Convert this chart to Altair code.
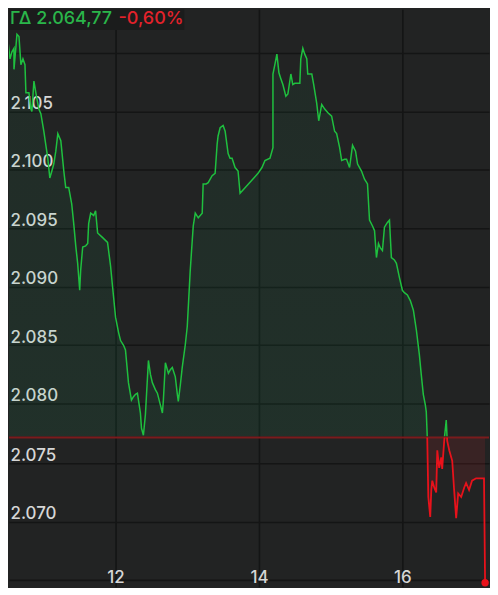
import altair as alt
import pandas as pd

# ---- data ----
minutes = [630.0, 630.0, 631.7, 633.3, 635.0, 635.0, 636.7, 637.5, 639.2, 640.8,
           642.5, 644.2, 645.0, 647.5, 649.2, 650.0, 651.7, 653.3, 654.2, 655.8,
           657.5, 660.0, 661.7, 663.3, 665.0, 666.7, 668.3, 670.0, 671.7, 674.2,
           676.7, 678.3, 680.8, 683.3, 685.0, 686.7, 688.3, 690.0, 690.8, 692.5,
           695.0, 696.7, 697.5, 699.2, 701.7, 703.3, 705.0, 709.2, 713.3, 715.8,
           717.5, 720.0, 722.5, 724.2, 726.7, 728.3, 730.8, 733.3, 735.0, 736.7,
           738.3, 740.8, 741.7, 743.3, 745.0, 747.5, 749.2, 750.8, 753.3, 755.0,
           757.5, 759.2, 760.0, 761.7, 764.2, 765.8, 767.5, 770.0, 771.7, 772.5,
           774.2, 775.8, 778.3, 780.0, 782.5, 784.2, 785.0, 786.7, 789.2, 792.5,
           793.3, 795.8, 797.5, 800.8, 803.3, 805.0, 805.8, 807.5, 810.0, 811.7,
           814.2, 815.8, 817.5, 820.0, 822.5, 824.2, 839.2, 842.5, 845.0, 849.2,
           851.7, 851.7, 853.3, 855.0, 856.7, 858.3, 860.0, 862.5, 864.2, 866.7,
           868.3, 870.0, 874.2, 875.0, 876.7, 878.3, 880.0, 880.8, 884.2, 885.8,
           888.3, 890.0, 892.5, 895.0, 897.5, 900.8, 903.3, 905.0, 907.5, 909.2,
           911.7, 913.3, 915.8, 918.3, 920.8, 922.5, 925.8, 928.3, 930.8, 932.5,
           935.0, 936.7, 938.3, 940.0, 941.7, 943.3, 945.0, 947.5, 949.2, 950.8,
           953.3, 955.0, 957.5, 960.0, 961.7, 964.2, 966.7, 969.2, 971.7, 974.2,
           975.8, 977.5, 979.2, 980.0, 980.8, 981.7, 983.3, 984.2, 985.0, 986.7,
           988.3, 989.2, 990.8, 992.5, 993.3, 995.0, 996.7, 997.5, 999.2, 1001.7,
           1003.3, 1005.0, 1006.7, 1009.2, 1011.7, 1013.3, 1015.8, 1018.3, 1021.7, 1028.3,
           1029.2]
prices = [2.0944, 2.1110, 2.1095, 2.1101, 2.1104, 2.1086, 2.1106, 2.1116, 2.1114, 2.1090,
          2.1095, 2.1090, 2.1066, 2.1066, 2.1052, 2.1050, 2.1076, 2.1066, 2.1061, 2.1052,
          2.1048, 2.1033, 2.1021, 2.1010, 2.0993, 2.0999, 2.1005, 2.1016, 2.1031, 2.1025,
          2.0999, 2.0985, 2.0985, 2.0971, 2.0954, 2.0935, 2.0920, 2.0897, 2.0914, 2.0934,
          2.0935, 2.0937, 2.0954, 2.0963, 2.0961, 2.0965, 2.0946, 2.0942, 2.0938, 2.0918,
          2.0900, 2.0874, 2.0861, 2.0854, 2.0850, 2.0846, 2.0818, 2.0803, 2.0806, 2.0808,
          2.0809, 2.0792, 2.0779, 2.0773, 2.0791, 2.0837, 2.0825, 2.0818, 2.0812, 2.0809,
          2.0799, 2.0792, 2.0803, 2.0835, 2.0826, 2.0829, 2.0831, 2.0823, 2.0808, 2.0802,
          2.0816, 2.0831, 2.0850, 2.0866, 2.0914, 2.0940, 2.0952, 2.0963, 2.0959, 2.0963,
          2.0988, 2.0988, 2.0989, 2.0995, 2.0997, 2.1022, 2.1029, 2.1036, 2.1038, 2.1033,
          2.1014, 2.1010, 2.1010, 2.1002, 2.0999, 2.0980, 2.0997, 2.1002, 2.1008, 2.1010,
          2.1019, 2.1082, 2.1090, 2.1099, 2.1083, 2.1078, 2.1073, 2.1063, 2.1065, 2.1082,
          2.1073, 2.1074, 2.1074, 2.1095, 2.1104, 2.1099, 2.1095, 2.1082, 2.1082, 2.1073,
          2.1057, 2.1042, 2.1056, 2.1052, 2.1049, 2.1046, 2.1033, 2.1031, 2.1019, 2.1008,
          2.1009, 2.1009, 2.1002, 2.1021, 2.1016, 2.1005, 2.0999, 2.0992, 2.0988, 2.0957,
          2.0952, 2.0948, 2.0925, 2.0937, 2.0933, 2.0931, 2.0951, 2.0955, 2.0957, 2.0925,
          2.0923, 2.0920, 2.0908, 2.0897, 2.0895, 2.0893, 2.0888, 2.0880, 2.0863, 2.0842,
          2.0825, 2.0808, 2.0799, 2.0793, 2.0772, 2.0721, 2.0704, 2.0727, 2.0735, 2.0729,
          2.0725, 2.0761, 2.0746, 2.0755, 2.0745, 2.0769, 2.0786, 2.0769, 2.0761, 2.0752,
          2.0727, 2.0703, 2.0724, 2.0721, 2.0729, 2.0733, 2.0727, 2.0735, 2.0737, 2.0737,
          2.06477]
prev_close = 2.0772
header_value = "ΓΔ 2.064,77"
header_change = "-0,60%"
x_ticks = [12, 14, 16]
y_ticks_top = [2.080, 2.085, 2.090, 2.095, 2.100, 2.105, 2.110]
y_ticks_bottom = [2.065, 2.070, 2.075]

# ---- styling ----
BG = "#222323"
GRID = "#141515"
GREEN = "#1fc03f"
RED = "#e8121b"
LABEL = "#d6d6d6"
FONT = "Inter"

W = 482
TOP_H = 429
BOT_H = 150
PX = 0.005 / 58.7          # price units per pixel
X_DOM = [10.514, 17.208]
TOP_DOM = [prev_close, prev_close + TOP_H * PX]
BOT_DOM = [prev_close - BOT_H * PX, prev_close]

df = pd.DataFrame({"i": range(len(prices)),
                   "h": [m / 60 for m in minutes],
                   "v": prices})
df["base"] = prev_close
last = df.tail(1)

x_scale = alt.Scale(domain=X_DOM, nice=False, zero=False)


def x_axis(show_labels):
    return alt.Axis(values=x_ticks, grid=True, gridColor=GRID, gridWidth=1.6,
                    ticks=False, tickSize=0, domain=False, labels=show_labels,
                    labelColor=LABEL, labelFont=FONT, labelFontSize=17, labelFontWeight=500,
                    labelPadding=-9, labelBaseline="middle", labelFlush=False,
                    title=None, format="d")


def y_axis(vals, hide_expr):
    return alt.Axis(values=vals, grid=True, gridColor=GRID, gridWidth=1.6,
                    ticks=False, tickSize=0, domain=False,
                    labelColor=LABEL, labelFont=FONT, labelFontSize=17, labelFontWeight=500,
                    labelAlign="left", labelPadding=-1, labelBaseline="alphabetic",
                    labelOffset=-3, labelFlush=False,
                    labelExpr=f"{hide_expr} ? '' : format(datum.value, '.3f')",
                    title=None)


# ---- top panel (above previous close) ----
top_base = alt.Chart(df).encode(
    x=alt.X("h:Q", scale=x_scale, axis=x_axis(False)),
    y=alt.Y("v:Q", scale=alt.Scale(domain=TOP_DOM, nice=False, zero=False),
            axis=y_axis(y_ticks_top, "datum.value > 2.1075")),
)
green_area = top_base.mark_area(
    clip=True,
    color=alt.Gradient(gradient="linear",
                       stops=[alt.GradientStop(color="rgba(20,190,110,0.05)", offset=0),
                              alt.GradientStop(color="rgba(20,190,110,0.10)", offset=1)],
                       x1=1, x2=1, y1=0, y2=1),
).encode(y2="base:Q")
green_line = top_base.mark_line(clip=True, color=GREEN, strokeWidth=1.5).encode(order="i:Q")

head_df = pd.DataFrame({"a": [header_value], "b": [header_change]})
head_box = alt.Chart(head_df).mark_rect(color="#1b1c1c").encode(
    x=alt.value(0), x2=alt.value(176), y=alt.value(0), y2=alt.value(21))
head_val = alt.Chart(head_df).mark_text(
    align="left", baseline="middle", font=FONT, fontSize=18, fontWeight=500,
    color="#2ab54a").encode(x=alt.value(1), y=alt.value(10), text="a:N")
head_chg = alt.Chart(head_df).mark_text(
    align="left", baseline="middle", font=FONT, fontSize=18, fontWeight=500,
    color="#e3222b").encode(x=alt.value(110), y=alt.value(10), text="b:N")

top = alt.layer(green_area, green_line, head_box, head_val, head_chg).properties(
    width=W, height=TOP_H)

# ---- bottom panel (below previous close) ----
bot_base = alt.Chart(df).encode(
    x=alt.X("h:Q", scale=x_scale, axis=x_axis(True)),
    y=alt.Y("v:Q", scale=alt.Scale(domain=BOT_DOM, nice=False, zero=False),
            axis=y_axis(y_ticks_bottom, "datum.value < 2.0675")),
)
red_area = bot_base.mark_area(clip=True, color="rgba(220,40,45,0.13)").encode(y2="base:Q")
base_rule = alt.Chart(pd.DataFrame({"base": [prev_close]})).mark_rule(
    clip=False, color="#7a1b1c", strokeWidth=2).encode(y="base:Q")
red_line = bot_base.mark_line(clip=True, color=RED, strokeWidth=1.8).encode(order="i:Q")
red_dot = alt.Chart(last).mark_circle(clip=False, color=RED, size=55, opacity=1).encode(
    x=alt.X("h:Q", scale=x_scale), y="v:Q")

bottom = alt.layer(red_area, base_rule, red_line, red_dot).properties(
    width=W, height=BOT_H)

chart = alt.vconcat(top, bottom, spacing=0).properties(
    padding=0, background=BG
).configure_view(stroke=None)

chart.save("out.html", embed_options={"renderer": "svg", "actions": False})
